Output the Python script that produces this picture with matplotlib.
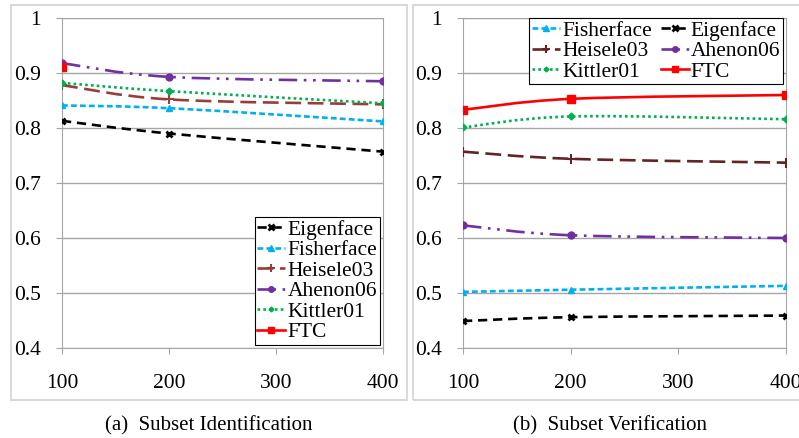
import numpy as np
import matplotlib
matplotlib.use('Agg')
import matplotlib.pyplot as plt
from matplotlib.path import Path
from matplotlib.patches import PathPatch, Rectangle
from matplotlib.lines import Line2D

plt.rcParams['font.family'] = ['Liberation Serif', 'DejaVu Serif']

sizes = [100, 200, 400]
xticks = [100, 200, 300, 400]
yticks = [0.4, 0.5, 0.6, 0.7, 0.8, 0.9, 1.0]
ytick_labels = ['0.4', '0.5', '0.6', '0.7', '0.8', '0.9', '1']

# subset identification
ident_eigen = [0.813, 0.790, 0.757]
ident_fisher = [0.841, 0.836, 0.812]
ident_heisele = [0.878, 0.852, 0.843]
ident_ahenon = [0.918, 0.893, 0.885]
ident_kittler = [0.882, 0.867, 0.845]
ident_ftc = [0.911, np.nan, np.nan]

# subset verification
verif_eigen = [0.449, 0.456, 0.459]
verif_fisher = [0.502, 0.506, 0.513]
verif_heisele = [0.757, 0.744, 0.737]
verif_ahenon = [0.623, 0.605, 0.600]
verif_kittler = [0.801, 0.821, 0.816]
verif_ftc = [0.833, 0.853, 0.860]

captions = ['(a)  Subset Identification', '(b)  Subset Verification']

styles = {
    'Eigenface': dict(color='black', ls=(0, (3.5, 2.2)), marker='x', ms=5, mew=2),
    'Fisherface': dict(color='#00b0f0', ls=(0, (2.2, 1.2)), marker='^', ms=5, mew=1),
    'Heisele03': dict(color='#9b3d37', ls=(0, (6, 2.5)), marker='+', ms=7, mew=1.5),
    'Ahenon06': dict(color='#7030a0', ls=(0, (7, 2.5, 1, 2.5, 1, 2.5)), marker='o', ms=5, mew=1),
    'Kittler01': dict(color='#00b050', ls=(0, (1, 1.2)), marker='D', ms=3.5, mew=1),
    'FTC': dict(color='#ff0000', ls='-', marker='s', ms=5.5, mew=1),
}


def smooth_path(xs, ys):
    # excel style smoothed line as cubic bezier segments
    pts = [np.array([x, y]) for x, y in zip(xs, ys) if not np.isnan(y)]
    if len(pts) < 2:
        return None
    verts = [pts[0]]
    codes = [Path.MOVETO]
    for i in range(len(pts) - 1):
        p0 = pts[i - 1] if i > 0 else pts[i]
        p1 = pts[i]
        p2 = pts[i + 1]
        p3 = pts[i + 2] if i + 2 < len(pts) else pts[i + 1]
        verts += [p1 + (p2 - p0) / 6, p2 - (p3 - p1) / 6, p2]
        codes += [Path.CURVE4] * 3
    return Path(verts, codes)


def draw_series(ax, name, ys, color=None):
    st = dict(styles[name])
    if color is not None:
        st['color'] = color
    path = smooth_path(sizes, ys)
    if path is not None:
        ax.add_patch(PathPatch(path, fill=False, edgecolor=st['color'], lw=1.9,
                               linestyle=st['ls'], zorder=3))
    ax.plot(sizes, ys, linestyle='none', marker=st['marker'], ms=st['ms'],
            mew=st['mew'], color=st['color'], zorder=4)
    return Line2D([], [], color=st['color'], lw=1.9, linestyle=st['ls'],
                  marker=st['marker'], ms=st['ms'] - 1, mew=st['mew'])


def setup_axes(ax):
    ax.set_xlim(100, 400)
    ax.set_ylim(0.4, 1.0)
    ax.set_xticks(xticks)
    ax.set_yticks(yticks)
    ax.set_yticklabels(ytick_labels)
    ax.grid(axis='y', color='#a6a6a6', lw=1)
    ax.set_axisbelow(True)
    for s in ['left', 'right', 'top', 'bottom']:
        ax.spines[s].set_color('#a6a6a6')
    ax.tick_params(axis='both', labelsize=15.5, color='#a6a6a6', direction='out')
    ax.tick_params(axis='x', length=4, pad=15)
    ax.tick_params(axis='y', length=4, pad=11)


fig = plt.figure(figsize=(7.99, 4.38), dpi=100)

# panel borders
fig.add_artist(Rectangle((11 / 799, 1 - 400 / 438), 396 / 799, 395 / 438,
                         transform=fig.transFigure, fill=False,
                         edgecolor='#d9d9d9', lw=1.5))
fig.add_artist(Rectangle((413 / 799, 1 - 400 / 438), 400 / 799, 395 / 438,
                         transform=fig.transFigure, fill=False,
                         edgecolor='#d9d9d9', lw=1.5))

ax1 = fig.add_axes([62 / 799, 1 - 348 / 438, 321 / 799, 330 / 438])
ax2 = fig.add_axes([463 / 799, 1 - 348 / 438, 323 / 799, 330 / 438])
setup_axes(ax1)
setup_axes(ax2)

names = ['Eigenface', 'Fisherface', 'Heisele03', 'Ahenon06', 'Kittler01', 'FTC']
ident = [ident_eigen, ident_fisher, ident_heisele, ident_ahenon, ident_kittler, ident_ftc]
verif = [verif_eigen, verif_fisher, verif_heisele, verif_ahenon, verif_kittler, verif_ftc]

h1 = {}
for n, ys in zip(names, ident):
    h1[n] = draw_series(ax1, n, ys)
h2 = {}
for n, ys in zip(names, verif):
    h2[n] = draw_series(ax2, n, ys, color='#632523' if n == 'Heisele03' else None)

leg1 = ax1.legend([h1[n] for n in names], names, loc='lower right',
                  bbox_to_anchor=(0.99, 0.01), borderaxespad=0, fontsize=15.5,
                  fancybox=False, edgecolor='black', framealpha=1,
                  handlelength=1.3, handletextpad=0.1, labelspacing=0.02,
                  borderpad=0.12)
leg1.get_frame().set_linewidth(0.8)

order2 = ['Fisherface', 'Heisele03', 'Kittler01', 'Eigenface', 'Ahenon06', 'FTC']
leg2 = ax2.legend([h2[n] for n in order2], order2, loc='upper right', ncol=2,
                  bbox_to_anchor=(0.99, 1.0), borderaxespad=0, fontsize=15.5,
                  fancybox=False, edgecolor='black', framealpha=1,
                  handlelength=1.3, handletextpad=0.1, labelspacing=0.02,
                  borderpad=0.12, columnspacing=0.4)
leg2.get_frame().set_linewidth(0.8)

fig.text(209 / 799, 1 - 426 / 438, captions[0], ha='center', va='center', fontsize=15)
fig.text(610 / 799, 1 - 426 / 438, captions[1], ha='center', va='center', fontsize=15)

fig.savefig('out.png', dpi=100)
